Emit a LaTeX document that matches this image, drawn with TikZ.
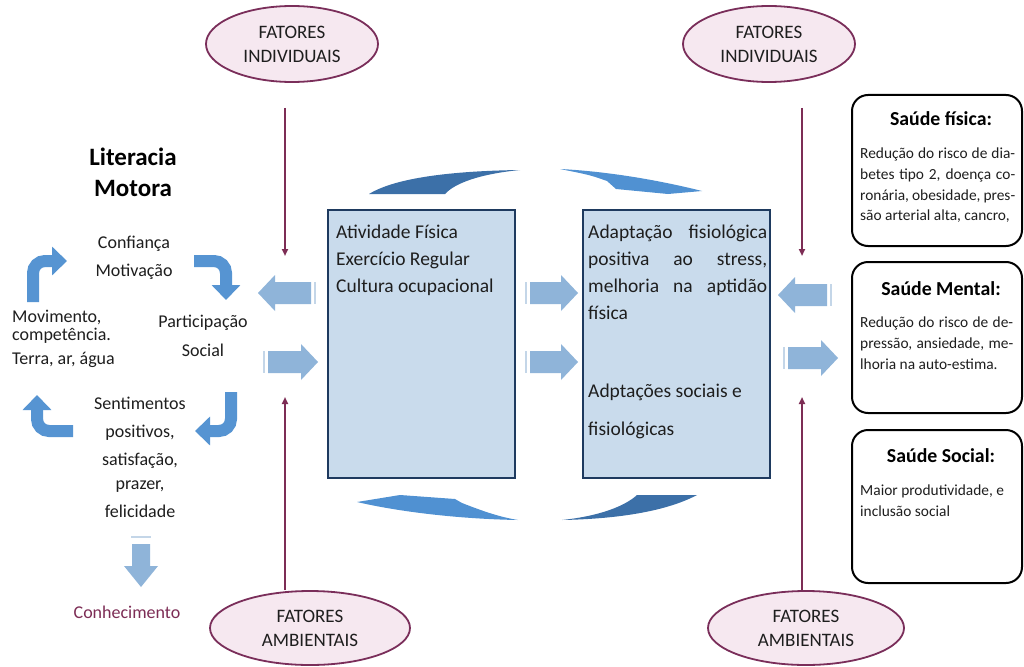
\documentclass[tikz,border=0pt]{standalone}
\usepackage{fontspec}
\setmainfont{Carlito}
\usetikzlibrary{arrows.meta,shapes.geometric}
\definecolor{ellfill}{RGB}{246,232,240}
\definecolor{elldraw}{RGB}{122,46,90}
\definecolor{purp}{RGB}{125,45,85}
\definecolor{boxfill}{RGB}{201,219,236}
\definecolor{boxdraw}{RGB}{30,58,95}
\definecolor{curvblue}{RGB}{86,148,210}
\definecolor{blockblue}{RGB}{143,180,217}
\definecolor{barblue}{RGB}{196,214,232}
\definecolor{darkarc}{RGB}{60,112,168}
\definecolor{lightarc}{RGB}{80,145,210}
\definecolor{txt}{RGB}{30,30,30}
\newcommand{\blkR}[3]{%
  \fill[barblue] ({#1},{#3-11}) rectangle ({#1+2},{#3+11});
  \fill[blockblue] ({#1+5},{#3-11}) -- ({#2-17},{#3-11}) -- ({#2-17},{#3-18}) -- ({#2},{#3}) -- ({#2-17},{#3+18}) -- ({#2-17},{#3+11}) -- ({#1+5},{#3+11}) -- cycle;}
\newcommand{\blkL}[3]{%
  \fill[barblue] ({#1-2},{#3-11}) rectangle ({#1},{#3+11});
  \fill[blockblue] ({#1-5},{#3-11}) -- ({#2+17},{#3-11}) -- ({#2+17},{#3-18}) -- ({#2},{#3}) -- ({#2+17},{#3+18}) -- ({#2+17},{#3+11}) -- ({#1-5},{#3+11}) -- cycle;}
\begin{document}
\begin{tikzpicture}[x=1pt,y=-1pt,
  factor/.style={ellipse, draw=elldraw, line width=1.8pt, fill=ellfill, minimum width=172pt, minimum height=76pt, inner sep=0pt, align=center, font=\fontsize{19}{24}\selectfont, text=txt},
  mainbox/.style={draw=boxdraw, line width=2.5pt, fill=boxfill, minimum width=187pt, minimum height=268pt, inner sep=0pt},
  influence/.style={draw=purp, line width=1.8pt, -{Triangle[length=7pt,width=6pt]}},
  curv/.style={draw=curvblue, line width=12pt, rounded corners=12pt, -{Triangle[length=15pt,width=28pt]}},
  lt/.style={font=\fontsize{18}{20}\selectfont, text=txt, inner sep=0pt, anchor=base},
  ltl/.style={lt, anchor=base west},
  bt/.style={font=\fontsize{19.5}{26}\selectfont, text=txt, inner sep=0pt, anchor=base west},
  hbox/.style={draw=black, line width=2pt, rounded corners=16pt, fill=white, minimum width=170pt, inner sep=0pt},
  htitle/.style={font=\fontsize{19.8}{22}\selectfont\bfseries, text=black, inner sep=0pt, anchor=base},
  hbody/.style={font=\fontsize{15.4}{20}\selectfont, text=txt, inner sep=0pt, anchor=base west}
]
\useasboundingbox (0,0) rectangle (1024,666);
\fill[white] (0,0) rectangle (1024,666);

% ellipses
\node[factor] (fi1) at (292,44) {FATORES\\INDIVIDUAIS};
\node[factor] (fi2) at (769,44) {FATORES\\INDIVIDUAIS};
\node[factor, minimum width=200pt, minimum height=74pt] (fa1) at (310,628) {FATORES\\AMBIENTAIS};
\node[factor, minimum width=196pt, minimum height=74pt] (fa2) at (806,628) {FATORES\\AMBIENTAIS};

% influence arrows
\coordinate (i1s) at (285,108); \coordinate (i1e) at (285,256);
\coordinate (i2s) at (802,108); \coordinate (i2e) at (802,256);
\coordinate (a1s) at (285,590); \coordinate (a1e) at (285,397);
\coordinate (a2s) at (802,590); \coordinate (a2e) at (802,397);
\draw[influence] (i1s) -- (i1e);
\draw[influence] (i2s) -- (i2e);
\draw[influence] (a1s) -- (a1e);
\draw[influence] (a2s) -- (a2e);

% main boxes
\node[mainbox] (b1) at (421.5,344) {};
\node[mainbox] (b2) at (676.5,344) {};
\node[bt] (t11) at (336,238) {Atividade Física};
\node[bt] (t12) at (336,265) {Exercício Regular};
\node[bt] (t13) at (336,292) {Cultura ocupacional};
\node[bt] (t21) at (588,238) {\makebox[179pt][s]{Adaptação fisiológica}};
\node[bt] (t22) at (588,265) {\makebox[179pt][s]{positiva ao stress,}};
\node[bt] (t23) at (588,292) {\makebox[179pt][s]{melhoria na aptidão}};
\node[bt] (t24) at (588,319) {física};
\node[bt] (t25) at (588,397) {Adptações sociais e};
\node[bt] (t26) at (588,435) {fisiológicas};

% arcs between boxes
\fill[darkarc] (369,194) .. controls (395,178) and (450,171) .. (520,170) .. controls (480,174) and (455,183) .. (445,194) -- cycle;
\fill[lightarc] (560,169) .. controls (600,171) and (650,178) .. (702,191) -- (668,194) -- (616,189) -- (607,181) .. controls (590,175) .. (560,169) -- cycle;
\fill[lightarc] (357,502) -- (400,495) -- (455,499) -- (462,503) .. controls (485,512) and (500,517) .. (518,520) .. controls (460,519) and (400,512) .. (357,502) -- cycle;
\fill[darkarc] (697,495) .. controls (665,512) and (615,519) .. (562,520) .. controls (600,516) and (625,506) .. (637,495) -- cycle;

% block arrows
\blkL{316}{258}{293}
\blkR{263}{318}{362}
\blkR{525}{578}{293}
\blkR{525}{578}{362}
\blkL{832}{778}{295}
\blkR{783}{838}{358}

% left column
\node[lt, font=\fontsize{25}{28}\selectfont\bfseries, text=black] (lit1) at (133,165) {Literacia};
\node[lt, font=\fontsize{25}{28}\selectfont\bfseries, text=black] (lit2) at (133,196) {Motora};
\node[lt] (c1) at (134,248) {Confiança};
\node[lt] (c2) at (134,276) {Motivação};
\node[ltl] (m1) at (12,322) {Movimento,};
\node[ltl] (m2) at (12,340) {competência.};
\node[ltl] (m3) at (12,364) {Terra, ar, água};
\node[lt] (p1) at (203,327) {Participação};
\node[lt] (p2) at (203,356) {Social};
\node[lt] (s1) at (140,409) {Sentimentos};
\node[lt] (s2) at (140,437) {positivos,};
\node[lt] (s3) at (140,465) {satisfação,};
\node[lt] (s4) at (140,489) {prazer,};
\node[lt] (s5) at (140,517) {felicidade};
\node[lt, text=purp] (kn) at (127,618) {Conhecimento};

% curved cycle arrows
\coordinate (ca1) at (33,302); \coordinate (ca2) at (67,261);
\coordinate (cb1) at (194,261); \coordinate (cb2) at (226,300);
\coordinate (cc1) at (231,392); \coordinate (cc2) at (195,431);
\coordinate (cd1) at (73,431); \coordinate (cd2) at (37,395);
\draw[curv] (ca1) |- (ca2);
\draw[curv] (cb1) -| (cb2);
\draw[curv] (cc1) |- (cc2);
\draw[curv] (cd1) -| (cd2);

% down arrow
\fill[barblue] (131,536) rectangle (151,538);
\fill[blockblue] (132,544) -- (150,544) -- (150,566) -- (158,566) -- (141,587) -- (124,566) -- (132,566) -- cycle;

% health boxes
\node[hbox, minimum height=151pt] (h1) at (937,170.5) {};
\node[hbox, minimum height=151pt] (h2) at (937,337.5) {};
\node[hbox, minimum height=153pt] (h3) at (937,506.5) {};
\node[htitle] (h1t) at (941,125) {Saúde física:};
\node[hbody] (h1a) at (860,158) {\makebox[155pt][s]{Redução do risco de dia-}};
\node[hbody] (h1b) at (860,179) {\makebox[155pt][s]{betes tipo 2, doença co-}};
\node[hbody] (h1c) at (860,200) {\makebox[155pt][s]{ronária, obesidade, pres-}};
\node[hbody] (h1d) at (860,220) {são arterial alta, cancro,};
\node[htitle] (h2t) at (941,295) {Saúde Mental:};
\node[hbody] (h2a) at (860,327) {\makebox[153pt][s]{Redução do risco de de-}};
\node[hbody] (h2b) at (860,348) {\makebox[153pt][s]{pressão, ansiedade, me-}};
\node[hbody] (h2c) at (860,369) {lhoria na auto-estima.};
\node[htitle] (h3t) at (941,462) {Saúde Social:};
\node[hbody] (h3a) at (860,495) {Maior produtividade, e};
\node[hbody] (h3b) at (860,516) {inclusão social};
\end{tikzpicture}
\end{document}
